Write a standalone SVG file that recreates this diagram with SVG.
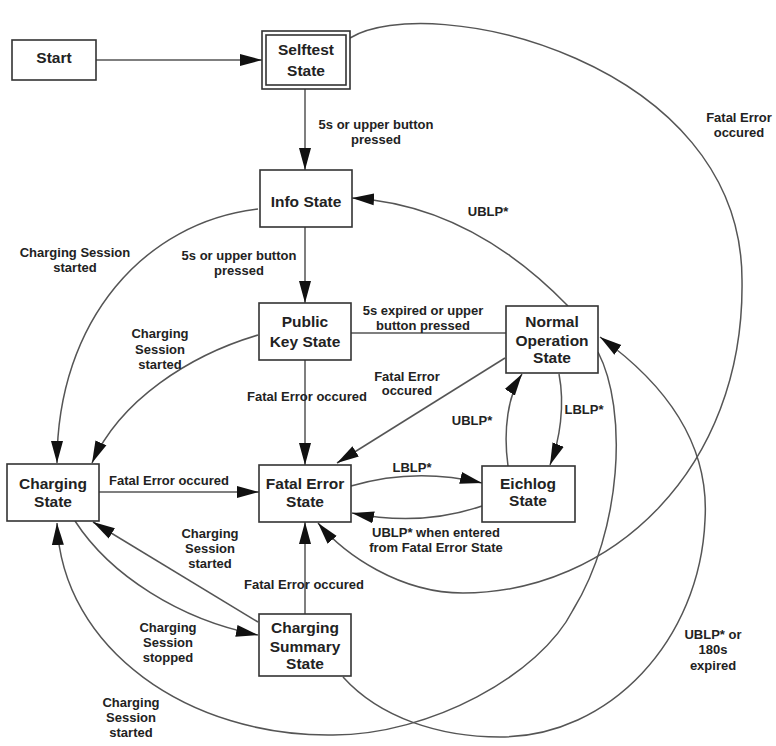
<svg xmlns="http://www.w3.org/2000/svg" width="776" height="746" viewBox="0 0 776 746">
<defs>
<marker id="ah" markerUnits="userSpaceOnUse" markerWidth="24" markerHeight="14" refX="22" refY="7" orient="auto">
<path d="M0,1 L22,7 L0,13 z" fill="#111"/>
</marker>
<style>
.box{fill:#fff;stroke:#333;stroke-width:1.6}
.nt{font-family:"Liberation Sans",Arial,sans-serif;font-weight:bold;font-size:15.5px;fill:#222;text-anchor:middle}
.lb{font-family:"Liberation Sans",Arial,sans-serif;font-weight:bold;font-size:13px;fill:#222;text-anchor:middle}
.c{fill:none;stroke:#555;stroke-width:1.5}
.a{marker-end:url(#ah)}
</style>
</defs>
<rect width="776" height="746" fill="#fff"/>
<g id="connectors">
<path class="c a" d="M96,60 L262,60"/>
<path class="c a" d="M305,89 L305,170"/>
<path class="c a" d="M305,227 L305,303"/>
<path class="c" d="M351,333 L506,333"/>
<path class="c a" d="M305,360 L305,465"/>
<path class="c a" d="M568,306 Q470,205 352,198"/>
<path class="c a" d="M350,38 C430,-10 742,60 742,280 C745,470 610,593 463,593 C400,593 345,555 318,523"/>
<path class="c a" d="M598,352 C628,410 622,530 573,610 C540,675 430,735 333,735 C190,737 62,650 57,523"/>
<path class="c a" d="M343,677 C380,718 440,737 500,737 C610,737 700,640 705,520 C710,440 660,380 600,337"/>
<path class="c a" d="M508,466 C503,430 508,395 522,374"/>
<path class="c a" d="M559,374 C565,405 560,440 550,465"/>
<path class="c a" d="M351,486 Q415,467 482,483"/>
<path class="c a" d="M482,506 Q420,527 352,513"/>
<path class="c a" d="M505,358 L337,463"/>
<path class="c a" d="M258,209 C145,222 57,320 57,463"/>
<path class="c a" d="M258,335 C190,355 120,400 92,463"/>
<path class="c a" d="M99,492 L259,492"/>
<path class="c a" d="M305,614 L305,522"/>
<path class="c a" d="M258,622 L93,522"/>
<path class="c a" d="M75,521 C110,575 180,620 258,635"/>
</g>
<g id="labels">
<text class="lb" x="376" y="128.5">5s or upper button</text>
<text class="lb" x="376" y="143.5">pressed</text>
<text class="lb" x="239" y="259.5">5s or upper button</text>
<text class="lb" x="239" y="275">pressed</text>
<text class="lb" x="75" y="256.5">Charging Session</text>
<text class="lb" x="75" y="271.5">started</text>
<text class="lb" x="160" y="337.5">Charging</text>
<text class="lb" x="160" y="353.5">Session</text>
<text class="lb" x="160" y="368.5">started</text>
<text class="lb" x="307" y="400.5">Fatal Error occured</text>
<text class="lb" x="423" y="314.5">5s expired or upper</text>
<text class="lb" x="423" y="329.5">button pressed</text>
<text class="lb" x="407" y="380.5">Fatal Error</text>
<text class="lb" x="407" y="394.5">occured</text>
<text class="lb" x="488" y="215.5">UBLP*</text>
<text class="lb" x="739" y="121.5">Fatal Error</text>
<text class="lb" x="739" y="136.5">occured</text>
<text class="lb" x="472" y="424.5">UBLP*</text>
<text class="lb" x="584" y="413.5">LBLP*</text>
<text class="lb" x="412" y="471.5">LBLP*</text>
<text class="lb" x="436" y="536.5">UBLP* when entered</text>
<text class="lb" x="436" y="551.5">from Fatal Error State</text>
<text class="lb" x="169" y="484.5">Fatal Error occured</text>
<text class="lb" x="210" y="537.5">Charging</text>
<text class="lb" x="210" y="552.5">Session</text>
<text class="lb" x="210" y="567.5">started</text>
<text class="lb" x="304" y="588.5">Fatal Error occured</text>
<text class="lb" x="168" y="631.5">Charging</text>
<text class="lb" x="168" y="646.5">Session</text>
<text class="lb" x="168" y="661.5">stopped</text>
<text class="lb" x="131" y="706.5">Charging</text>
<text class="lb" x="131" y="721.5">Session</text>
<text class="lb" x="131" y="736.5">started</text>
<text class="lb" x="713" y="638.5">UBLP* or</text>
<text class="lb" x="713" y="653.5">180s</text>
<text class="lb" x="713" y="670">expired</text>
</g>
<g id="start">
<rect class="box" x="12" y="40" width="84" height="40"/>
<text class="nt" x="54" y="63">Start</text>
</g>
<g id="selftest">
<rect class="box" x="262" y="31" width="88" height="58"/>
<rect class="box" x="266" y="35" width="80" height="50"/>
<text class="nt" x="306" y="55">Selftest</text>
<text class="nt" x="306" y="76">State</text>
</g>
<g id="info">
<rect class="box" x="260" y="170" width="92" height="57"/>
<text class="nt" x="306" y="206.5">Info State</text>
</g>
<g id="publickey">
<rect class="box" x="259" y="303" width="92" height="57"/>
<text class="nt" x="305" y="327">Public</text>
<text class="nt" x="305" y="347">Key State</text>
</g>
<g id="normal">
<rect class="box" x="506" y="306" width="92" height="67"/>
<text class="nt" x="552" y="327">Normal</text>
<text class="nt" x="552" y="345.5">Operation</text>
<text class="nt" x="552" y="363">State</text>
</g>
<g id="eichlog">
<rect class="box" x="482" y="466" width="93" height="56"/>
<text class="nt" x="528" y="489">Eichlog</text>
<text class="nt" x="528" y="506">State</text>
</g>
<g id="fatal">
<rect class="box" x="259" y="465" width="92" height="57"/>
<text class="nt" x="305" y="489">Fatal Error</text>
<text class="nt" x="305" y="506.5">State</text>
</g>
<g id="charging">
<rect class="box" x="7" y="464" width="92" height="57"/>
<text class="nt" x="53" y="489">Charging</text>
<text class="nt" x="53" y="506.5">State</text>
</g>
<g id="summary">
<rect class="box" x="259" y="614" width="92" height="62"/>
<text class="nt" x="305" y="633">Charging</text>
<text class="nt" x="305" y="651.5">Summary</text>
<text class="nt" x="305" y="669">State</text>
</g>
</svg>
